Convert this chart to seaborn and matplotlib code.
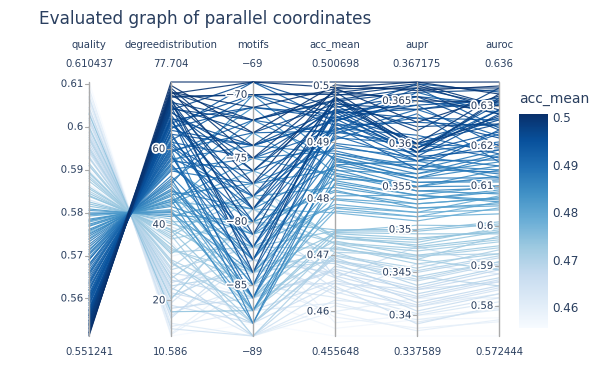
import matplotlib
matplotlib.use('Agg')
import matplotlib.pyplot as plt
import matplotlib.patheffects as pe
import numpy as np
import pandas as pd
import seaborn as sns

# values (one entry per line / run)
quality = [0.551241, 0.551833, 0.552425, 0.553017, 0.553609, 0.554201, 0.554793, 0.555385, 0.555977, 0.556569,
           0.557161, 0.558345, 0.559529, 0.560712, 0.561896, 0.563080, 0.564264, 0.565448, 0.566632, 0.567816,
           0.568999, 0.552100, 0.553300, 0.554500, 0.556000, 0.557800, 0.559000, 0.560100, 0.562500, 0.564900,
           0.570183, 0.571367, 0.572551, 0.573735, 0.574919, 0.576103, 0.577287, 0.578471, 0.579655, 0.580839,
           0.568000, 0.566000, 0.571000, 0.574000, 0.577800, 0.579200, 0.562000, 0.569500, 0.575500, 0.578000,
           0.582023, 0.583799, 0.585575, 0.587351, 0.589126, 0.590902, 0.592678, 0.594454, 0.596230, 0.598598,
           0.600966, 0.603333, 0.605701, 0.608069, 0.610437, 0.581500, 0.584500, 0.588000, 0.591500, 0.595000,
           0.597500, 0.599500, 0.602000, 0.604500, 0.607000, 0.580000, 0.583000, 0.586500, 0.590000, 0.593500,
           0.597000, 0.600000, 0.603000,
           0.551500, 0.552800, 0.553800, 0.554900, 0.555600, 0.556300, 0.557400, 0.558700, 0.559800, 0.561200,
           0.563500, 0.565900, 0.567300, 0.552000, 0.554000, 0.557000, 0.560500, 0.563800,
           0.569000, 0.570500, 0.572000, 0.573200, 0.574500, 0.575800, 0.576800, 0.578200, 0.579900, 0.580500,
           0.575200, 0.577000, 0.579500,
           0.582500, 0.584000, 0.586000, 0.588500, 0.591000, 0.593000, 0.595500, 0.598000, 0.601500, 0.604000,
           0.606500, 0.609000, 0.585000, 0.589500, 0.594000, 0.598800]
degreedistribution = [77.704, 75.019, 74.348, 73.677, 73.006, 72.335, 71.663, 70.992, 70.321, 69.650,
                      68.979, 67.636, 66.294, 64.952, 63.609, 62.267, 60.925, 59.582, 58.240, 56.897,
                      55.555, 76.100, 72.800, 74.900, 71.200, 66.800, 68.300, 63.900, 61.400, 58.700,
                      54.213, 52.870, 51.528, 50.186, 48.843, 47.501, 46.159, 44.816, 43.474, 42.131,
                      57.300, 59.900, 55.000, 51.000, 45.600, 44.000, 63.000, 56.200, 49.000, 46.000,
                      40.789, 38.776, 36.762, 34.748, 32.735, 30.721, 28.708, 26.694, 24.681, 21.996,
                      19.311, 16.627, 13.942, 11.257, 10.586, 41.500, 37.900, 33.800, 29.900, 25.800,
                      23.300, 20.900, 17.900, 15.300, 12.500, 43.000, 39.500, 35.600, 31.600, 27.600,
                      23.800, 20.300, 17.000,
                      76.800, 75.500, 73.900, 72.100, 70.600, 69.900, 68.100, 67.200, 65.600, 64.200,
                      61.800, 59.100, 57.600, 74.600, 73.300, 67.900, 65.300, 60.300,
                      56.000, 54.600, 52.100, 50.700, 49.400, 47.900, 46.600, 45.200, 43.200, 42.600,
                      48.300, 46.800, 43.800,
                      40.300, 38.500, 36.200, 33.300, 30.400, 28.100, 25.400, 22.600, 18.700, 15.900,
                      13.100, 11.000, 37.300, 32.300, 27.200, 21.700]
motifs = [-69, -71, -74, -70, -76, -72, -78, -73, -69, -75,
          -80, -71, -77, -74, -82, -70, -79, -73, -84, -76,
          -81, -75, -79, -72, -83, -70, -85, -74, -78, -86,
          -77, -83, -72, -85, -79, -86, -75, -81, -87, -78,
          -74, -88, -80, -84, -76, -82, -87, -71, -85, -79,
          -80, -84, -77, -88, -82, -86, -79, -89, -83, -87,
          -81, -85, -89, -84, -88, -86, -78, -85, -87, -80,
          -88, -83, -86, -82, -89, -76, -83, -89, -81, -86,
          -84, -79, -87,
          -73, -77, -70, -81, -72, -76, -74, -79, -71, -83,
          -75, -72, -78, -69, -84, -82, -69, -80,
          -82, -75, -86, -70, -83, -77, -88, -73, -84, -80,
          -87, -81, -86,
          -82, -87, -80, -84, -88, -82, -86, -80, -88, -83,
          -87, -85, -89, -78, -85, -89]
acc_mean = [0.500698, 0.4995, 0.4990, 0.4985, 0.4980, 0.4975, 0.4970, 0.4968, 0.4962, 0.4958,
            0.4955, 0.4950, 0.4945, 0.4940, 0.4935, 0.4930, 0.4925, 0.4920, 0.4912, 0.4905,
            0.4898, 0.4992, 0.4978, 0.4983, 0.4960, 0.4952, 0.4942, 0.4938, 0.4928, 0.4918,
            0.4890, 0.4880, 0.4872, 0.4865, 0.4858, 0.4850, 0.4842, 0.4835, 0.4828, 0.4820,
            0.4880, 0.4870, 0.4812, 0.4805, 0.4798, 0.4790, 0.4860, 0.4845, 0.4783, 0.4775,
            0.4745, 0.4738, 0.4730, 0.4720, 0.4712, 0.4700, 0.4690, 0.4680, 0.4668, 0.4655,
            0.4640, 0.4625, 0.4610, 0.4590, 0.455648, 0.4742, 0.4735, 0.4725, 0.4715, 0.4705,
            0.4695, 0.4685, 0.4672, 0.4660, 0.4645, 0.4660, 0.4630, 0.4600, 0.4580, 0.4570,
            0.4690, 0.4720, 0.4740,
            0.5002, 0.4996, 0.4988, 0.4981, 0.4973, 0.4966, 0.4957, 0.4948, 0.4943, 0.4933,
            0.4923, 0.4915, 0.4908, 0.4997, 0.4976, 0.4954, 0.4936, 0.4921,
            0.4895, 0.4885, 0.4876, 0.4868, 0.4860, 0.4852, 0.4840, 0.4832, 0.4825, 0.4815,
            0.4800, 0.4785, 0.4778,
            0.4743, 0.4733, 0.4722, 0.4710, 0.4698, 0.4688, 0.4675, 0.4663, 0.4650, 0.4635,
            0.4615, 0.4598, 0.4705, 0.4730, 0.4650, 0.4620]
aupr = [0.367175, 0.3665, 0.3600, 0.3655, 0.3590, 0.3665, 0.3620, 0.3640, 0.3655, 0.3590,
        0.3630, 0.3670, 0.3605, 0.3645, 0.3595, 0.3625, 0.3610, 0.3660, 0.3580, 0.3635,
        0.3590, 0.3650, 0.3615, 0.3668, 0.3600, 0.3640, 0.3585, 0.3650, 0.3570, 0.3600,
        0.3585, 0.3570, 0.3560, 0.3575, 0.3550, 0.3565, 0.3545, 0.3555, 0.3540, 0.3535,
        0.3575, 0.3560, 0.3530, 0.3540, 0.3525, 0.3520, 0.3580, 0.3550, 0.3515, 0.3510,
        0.3500, 0.3490, 0.3485, 0.3475, 0.3465, 0.3455, 0.3450, 0.3440, 0.3430, 0.3420,
        0.3410, 0.3400, 0.3395, 0.3385, 0.337589, 0.3505, 0.3480, 0.3470, 0.3460, 0.3445,
        0.3435, 0.3425, 0.3415, 0.3405, 0.3390, 0.3480, 0.3460, 0.3420, 0.3400, 0.3395,
        0.3445, 0.3465, 0.3495,
        0.3662, 0.3625, 0.3670, 0.3595, 0.3660, 0.3600, 0.3645, 0.3590, 0.3655, 0.3580,
        0.3630, 0.3640, 0.3600, 0.3672, 0.3590, 0.3585, 0.3665, 0.3595,
        0.3580, 0.3570, 0.3565, 0.3555, 0.3560, 0.3545, 0.3550, 0.3540, 0.3535, 0.3525,
        0.3530, 0.3520, 0.3515,
        0.3498, 0.3488, 0.3478, 0.3468, 0.3452, 0.3442, 0.3432, 0.3422, 0.3412, 0.3402,
        0.3392, 0.3382, 0.3470, 0.3482, 0.3430, 0.3410]
auroc = [0.636, 0.6345, 0.6330, 0.6280, 0.6320, 0.6300, 0.6255, 0.6310, 0.6240, 0.6290,
         0.6220, 0.6335, 0.6270, 0.6200, 0.6305, 0.6250, 0.6180, 0.6280, 0.6230, 0.6160,
         0.6210, 0.6310, 0.6345, 0.6290, 0.6265, 0.6320, 0.6190, 0.6285, 0.6240, 0.6170,
         0.6150, 0.6190, 0.6120, 0.6140, 0.6100, 0.6160, 0.6080, 0.6110, 0.6060, 0.6090,
         0.6130, 0.6175, 0.6070, 0.6100, 0.6050, 0.6075, 0.6120, 0.6140, 0.6030, 0.6045,
         0.6010, 0.5985, 0.5995, 0.5960, 0.5975, 0.5940, 0.5920, 0.5905, 0.5880, 0.5860,
         0.5840, 0.5810, 0.5790, 0.5760, 0.572444, 0.6000, 0.5970, 0.5950, 0.5930, 0.5910,
         0.5895, 0.5870, 0.5850, 0.5830, 0.5800, 0.5900, 0.5880, 0.5820, 0.5790, 0.5770,
         0.5850, 0.5890, 0.5980,
         0.6350, 0.6325, 0.6300, 0.6275, 0.6340, 0.6255, 0.6315, 0.6235, 0.6305, 0.6205,
         0.6265, 0.6225, 0.6195, 0.6330, 0.6315, 0.6280, 0.6245, 0.6290,
         0.6165, 0.6135, 0.6180, 0.6115, 0.6150, 0.6095, 0.6125, 0.6065, 0.6085, 0.6055,
         0.6070, 0.6040, 0.6060,
         0.6005, 0.5990, 0.5965, 0.5945, 0.5925, 0.5910, 0.5890, 0.5865, 0.5845, 0.5820,
         0.5795, 0.5765, 0.5930, 0.5985, 0.5860, 0.5830]

columns = ['quality', 'degreedistribution', 'motifs', 'acc_mean', 'aupr', 'auroc']
top_labels = ['0.610437', '77.704', '\u221269', '0.500698', '0.367175', '0.636']
bottom_labels = ['0.551241', '10.586', '\u221289', '0.455648', '0.337589', '0.572444']
axis_ticks = {
    'quality': [0.56, 0.57, 0.58, 0.59, 0.60, 0.61],
    'degreedistribution': [20, 40, 60],
    'motifs': [-70, -75, -80, -85],
    'acc_mean': [0.46, 0.47, 0.48, 0.49, 0.50],
    'aupr': [0.34, 0.345, 0.35, 0.355, 0.36, 0.365],
    'auroc': [0.58, 0.59, 0.60, 0.61, 0.62, 0.63],
}
tick_text = {
    'quality': ['0.56', '0.57', '0.58', '0.59', '0.6', '0.61'],
    'degreedistribution': ['20', '40', '60'],
    'motifs': ['\u221270', '\u221275', '\u221280', '\u221285'],
    'acc_mean': ['0.46', '0.47', '0.48', '0.49', '0.5'],
    'aupr': ['0.34', '0.345', '0.35', '0.355', '0.36', '0.365'],
    'auroc': ['0.58', '0.59', '0.6', '0.61', '0.62', '0.63'],
}

df = pd.DataFrame({'quality': quality, 'degreedistribution': degreedistribution, 'motifs': motifs,
                   'acc_mean': acc_mean, 'aupr': aupr, 'auroc': auroc})
lo = df.min()
hi = df.max()
norm = (df - lo) / (hi - lo)
norm['row'] = range(len(df))
norm['color'] = df['acc_mean']
long = norm.melt(id_vars=['row', 'color'], value_vars=columns, var_name='axis', value_name='val')
long['pos'] = long['axis'].map({c: i for i, c in enumerate(columns)})

sns.set_style('white')
plt.rcParams['font.family'] = ['DejaVu Sans']
txt = '#2a3f5f'

fig = plt.figure(figsize=(5.92, 3.65), dpi=100)
ax = fig.add_axes([89 / 592, 29 / 365, 410 / 592, 254 / 365])
sns.lineplot(data=long, x='pos', y='val', units='row', estimator=None, hue='color',
             palette='Blues', hue_norm=(lo['acc_mean'], hi['acc_mean']), legend=False,
             sort=False, lw=0.85, alpha=0.9, ax=ax)
for ln in ax.lines:
    ln.set_clip_on(False)
ax.set_xlim(0, 5)
ax.set_ylim(0, 1)
ax.axis('off')

halo = [pe.withStroke(linewidth=2.5, foreground='white')]
for i, c in enumerate(columns):
    ax.plot([i, i], [0, 1], color='#aaaaaa', lw=1, zorder=5, clip_on=False)
    for t, s in zip(axis_ticks[c], tick_text[c]):
        y = (t - lo[c]) / (hi[c] - lo[c])
        ax.plot([i - 0.05, i], [y, y], color='#aaaaaa', lw=0.8, zorder=5, clip_on=False)
        ax.text(i - 0.07, y, s, ha='right', va='center', fontsize=7.3, color=txt,
                zorder=6, path_effects=halo)
    ax.text(i, 1.146, c, ha='center', va='center', fontsize=7.3, color=txt)
    ax.text(i, 1.071, top_labels[i], ha='center', va='center', fontsize=7.3, color=txt)
    ax.text(i, -0.063, bottom_labels[i], ha='center', va='center', fontsize=7.3, color=txt)

fig.text(39 / 592, 1 - 19 / 365, 'Evaluated graph of parallel coordinates', fontsize=12.2,
         color=txt, va='center', ha='left')

cax = fig.add_axes([519 / 592, (365 - 328) / 365, 29 / 592, 214 / 365])
sm = plt.cm.ScalarMappable(cmap='Blues', norm=plt.Normalize(lo['acc_mean'], hi['acc_mean']))
cb = fig.colorbar(sm, cax=cax)
cb.outline.set_visible(False)
cb.set_ticks([0.46, 0.47, 0.48, 0.49, 0.50])
cb.set_ticklabels(['0.46', '0.47', '0.48', '0.49', '0.5'])
cax.tick_params(length=0, labelsize=8.6, labelcolor=txt, pad=3)
fig.text(519 / 592, 1 - 99 / 365, 'acc_mean', fontsize=10, color=txt, va='center', ha='left')

fig.savefig('out.png', dpi=100)
